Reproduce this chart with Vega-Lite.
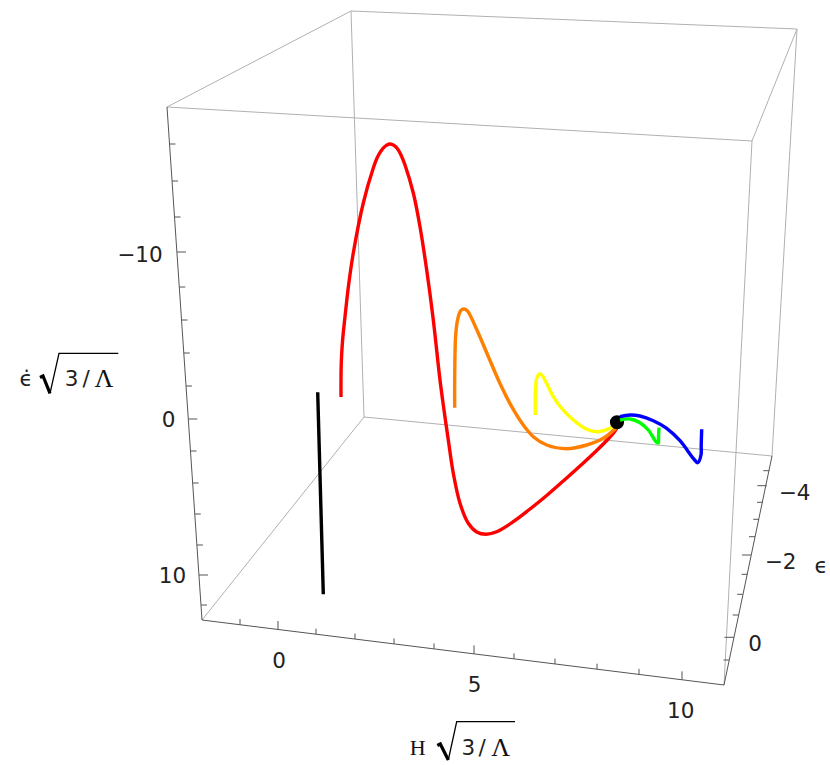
{"$schema":"https://vega.github.io/schema/vega-lite/v6.json","width":830,"height":765,"padding":0,"autosize":"none","background":"white","view":{"stroke":null},
"datasets":{
"box":[{"x":167,"y":107,"x2":351,"y2":11},{"x":351,"y":11,"x2":797,"y2":29},{"x":167,"y":107,"x2":752,"y2":141},{"x":752,"y":141,"x2":797,"y2":29},{"x":351,"y":11,"x2":364,"y2":417},{"x":364,"y":417,"x2":202,"y2":620},{"x":364,"y":417,"x2":772,"y2":456},{"x":797,"y":29,"x2":772,"y2":456},{"x":752,"y":141,"x2":724,"y2":685}],
"axes":[{"x":167,"y":107,"x2":202,"y2":620},{"x":202,"y":620,"x2":724,"y2":685},{"x":724,"y":685,"x2":772,"y2":456},
{"x":169.5,"y":144,"x2":175.5,"y2":144},{"x":172,"y":181,"x2":178,"y2":181},{"x":174.5,"y":217,"x2":180.5,"y2":217},{"x":177,"y":252,"x2":186,"y2":252},{"x":179.3,"y":287,"x2":185.3,"y2":287},{"x":181.5,"y":320,"x2":187.5,"y2":320},{"x":183.8,"y":353,"x2":189.8,"y2":353},{"x":186,"y":386,"x2":192,"y2":386},{"x":188.3,"y":419,"x2":197.3,"y2":419},{"x":190.5,"y":451,"x2":196.5,"y2":451},{"x":192.6,"y":483,"x2":198.6,"y2":483},{"x":194.8,"y":514,"x2":200.8,"y2":514},{"x":196.9,"y":545,"x2":202.9,"y2":545},{"x":199,"y":575,"x2":208,"y2":575},{"x":201,"y":605,"x2":207,"y2":605},
{"x":240,"y":624.7,"x2":240,"y2":619},{"x":278,"y":629.5,"x2":278,"y2":621},{"x":316,"y":634.2,"x2":316,"y2":628.7},{"x":355,"y":639,"x2":355,"y2":633.5},{"x":394,"y":643.9,"x2":394,"y2":638.4},{"x":434,"y":648.9,"x2":434,"y2":643.4},{"x":474,"y":653.9,"x2":474,"y2":645.4},{"x":514,"y":658.8,"x2":514,"y2":653.3},{"x":555,"y":664,"x2":555,"y2":658.5},{"x":597,"y":669.2,"x2":597,"y2":663.7},{"x":639,"y":674.4,"x2":639,"y2":668.9},{"x":682,"y":679.8,"x2":682,"y2":671.3},
{"x":729,"y":660,"x2":723.5,"y2":660},{"x":734,"y":637.3,"x2":724.5,"y2":637.3},{"x":738.3,"y":615,"x2":732.7,"y2":615},{"x":742.7,"y":594.3,"x2":737.2,"y2":594.3},{"x":747.3,"y":574.3,"x2":741.7,"y2":574.3},{"x":751,"y":555,"x2":742,"y2":555},{"x":755,"y":536.7,"x2":749,"y2":536.7},{"x":759,"y":519.3,"x2":753.3,"y2":519.3},{"x":762.7,"y":502.3,"x2":757,"y2":502.3},{"x":766.7,"y":485.7,"x2":757.3,"y2":485.7},{"x":769.3,"y":470.7,"x2":763.3,"y2":470.7}],
"labels":[{"x":140,"y":255.5,"t":"−10"},{"x":168.5,"y":420.5,"t":"0"},{"x":172.5,"y":576.5,"t":"10"},{"x":279,"y":661.5,"t":"0"},{"x":474.7,"y":685.5,"t":"5"},{"x":680.7,"y":711.5,"t":"10"},{"x":794.7,"y":493.5,"t":"−4"},{"x":780.5,"y":562.5,"t":"−2"},{"x":755,"y":644.5,"t":"0"},{"x":821,"y":567,"t":"ϵ"},{"x":26,"y":380,"t":"ϵ̇"},{"x":71.7,"y":380,"t":"3"},{"x":86,"y":380,"t":"/"},{"x":468.3,"y":748.5,"t":"3"},{"x":482,"y":748.5,"t":"/"}],
"lambda":[{"x":104,"y":379,"t":"Λ"},{"x":500.7,"y":748,"t":"Λ"}],
"serif":[{"x":417.7,"y":747.5,"t":"H"}],
"radThin":[{"g":"a","i":0,"x":50,"y":393.3},{"g":"a","i":1,"x":59,"y":353.3},{"g":"a","i":2,"x":118.3,"y":353.3},{"g":"b","i":0,"x":448.3,"y":760},{"g":"b","i":1,"x":456.7,"y":721.7},{"g":"b","i":2,"x":515,"y":721.7}],
"radThick":[{"g":"a","i":0,"x":40,"y":377.5},{"g":"a","i":1,"x":43,"y":376},{"g":"a","i":2,"x":50,"y":393.3},{"g":"b","i":0,"x":437.3,"y":745.5},{"g":"b","i":1,"x":440.3,"y":744},{"g":"b","i":2,"x":448.3,"y":760}],
"black":[{"i":0,"x":317.7,"y":392.3},{"i":1,"x":323.3,"y":594.3}],
"red":[{"i":0,"x":341,"y":397},{"i":1,"x":341,"y":380},{"i":2,"x":341.3,"y":362},{"i":3,"x":342.6,"y":340},{"i":4,"x":345,"y":316.7},{"i":5,"x":348.6,"y":285},{"i":6,"x":353.3,"y":253},{"i":7,"x":363.3,"y":203},{"i":8,"x":373.3,"y":168},{"i":9,"x":377.5,"y":157},{"i":10,"x":381.7,"y":150},{"i":11,"x":385.5,"y":146},{"i":12,"x":389.3,"y":144},{"i":13,"x":393.3,"y":145},{"i":14,"x":397.3,"y":148.5},{"i":15,"x":401,"y":155},{"i":16,"x":405,"y":165},{"i":17,"x":413.3,"y":193},{"i":18,"x":420,"y":226.7},{"i":19,"x":426.7,"y":270},{"i":20,"x":433.3,"y":320},{"i":21,"x":440,"y":380},{"i":22,"x":444,"y":410},{"i":23,"x":448.3,"y":440},{"i":24,"x":453.3,"y":473.3},{"i":25,"x":460,"y":503.3},{"i":26,"x":468.3,"y":523.3},{"i":27,"x":476.7,"y":532},{"i":28,"x":486,"y":534.3},{"i":29,"x":496.7,"y":531.7},{"i":30,"x":513.3,"y":521.7},{"i":31,"x":530,"y":509},{"i":32,"x":546.7,"y":495.5},{"i":33,"x":563.3,"y":481},{"i":34,"x":580,"y":466},{"i":35,"x":596.7,"y":450.5},{"i":36,"x":610,"y":437},{"i":37,"x":615,"y":431},{"i":38,"x":617.3,"y":426.7}],
"orange":[{"i":0,"x":454.7,"y":407.7},{"i":1,"x":454.7,"y":378.3},{"i":2,"x":455.5,"y":338},{"i":3,"x":456.7,"y":325},{"i":4,"x":458.3,"y":316.7},{"i":5,"x":460.7,"y":310.7},{"i":6,"x":464,"y":309},{"i":7,"x":467.3,"y":310.7},{"i":8,"x":470,"y":315},{"i":9,"x":480,"y":337},{"i":10,"x":490,"y":360.5},{"i":11,"x":500,"y":383.5},{"i":12,"x":511.7,"y":406.7},{"i":13,"x":523.3,"y":425},{"i":14,"x":533.3,"y":436.7},{"i":15,"x":546.7,"y":445},{"i":16,"x":566.7,"y":448.7},{"i":17,"x":586.7,"y":445},{"i":18,"x":603.3,"y":438.3},{"i":19,"x":617.3,"y":426.7}],
"yellow":[{"i":0,"x":535.3,"y":415},{"i":1,"x":535.3,"y":395},{"i":2,"x":535.7,"y":388},{"i":3,"x":536.7,"y":378.5},{"i":4,"x":539.3,"y":374},{"i":5,"x":541.7,"y":375},{"i":6,"x":544,"y":378.3},{"i":7,"x":553.3,"y":396.7},{"i":8,"x":559.3,"y":405.5},{"i":9,"x":570,"y":417},{"i":10,"x":586.7,"y":429.3},{"i":11,"x":598.3,"y":431.7},{"i":12,"x":610,"y":428.3},{"i":13,"x":617.3,"y":422.7}],
"dot":[{"x":617,"y":422.3}],
"green":[{"i":0,"x":659,"y":427.7},{"i":1,"x":658.5,"y":437},{"i":2,"x":658.3,"y":443},{"i":3,"x":656,"y":441.7},{"i":4,"x":648.3,"y":430},{"i":5,"x":640,"y":422.7},{"i":6,"x":630,"y":419},{"i":7,"x":620,"y":420}],
"blue":[{"i":0,"x":701.7,"y":429.3},{"i":1,"x":701.2,"y":445},{"i":2,"x":701,"y":455},{"i":3,"x":697.7,"y":462.7},{"i":4,"x":693.3,"y":458.3},{"i":5,"x":680,"y":440.7},{"i":6,"x":666.7,"y":428.3},{"i":7,"x":653.3,"y":420.7},{"i":8,"x":640,"y":416},{"i":9,"x":630,"y":415},{"i":10,"x":620,"y":416.7}]
},
"encoding":{"x":{"field":"x","type":"quantitative","axis":null,"scale":{"domain":[0,830],"range":[0,830],"nice":false,"zero":false}},"y":{"field":"y","type":"quantitative","axis":null,"scale":{"domain":[765,0],"range":[765,0],"nice":false,"zero":false}}},
"layer":[
{"data":{"name":"box"},"mark":{"type":"rule","color":"#b0b0b0","strokeWidth":1},"encoding":{"x2":{"field":"x2"},"y2":{"field":"y2"}}},
{"data":{"name":"axes"},"mark":{"type":"rule","color":"#555555","strokeWidth":1},"encoding":{"x2":{"field":"x2"},"y2":{"field":"y2"}}},
{"data":{"name":"black"},"mark":{"type":"line","color":"black","strokeWidth":3.4,"strokeCap":"butt"},"encoding":{"order":{"field":"i"}}},
{"data":{"name":"red"},"mark":{"type":"line","color":"#ff0000","strokeWidth":3.4,"interpolate":"catmull-rom"},"encoding":{"order":{"field":"i"}}},
{"data":{"name":"orange"},"mark":{"type":"line","color":"#ff7f00","strokeWidth":3.4,"interpolate":"catmull-rom"},"encoding":{"order":{"field":"i"}}},
{"data":{"name":"yellow"},"mark":{"type":"line","color":"#ffff00","strokeWidth":3.4,"interpolate":"catmull-rom"},"encoding":{"order":{"field":"i"}}},
{"data":{"name":"dot"},"mark":{"type":"point","filled":true,"color":"black","opacity":1,"size":200}},
{"data":{"name":"green"},"mark":{"type":"line","color":"#00ff00","strokeWidth":3.4,"interpolate":"catmull-rom"},"encoding":{"order":{"field":"i"}}},
{"data":{"name":"blue"},"mark":{"type":"line","color":"#0000ff","strokeWidth":3.4,"interpolate":"catmull-rom"},"encoding":{"order":{"field":"i"}}},
{"data":{"name":"radThin"},"mark":{"type":"line","color":"black","strokeWidth":1.3},"encoding":{"detail":{"field":"g"},"order":{"field":"i"}}},
{"data":{"name":"radThick"},"mark":{"type":"line","color":"black","strokeWidth":3.2},"encoding":{"detail":{"field":"g"},"order":{"field":"i"}}},
{"data":{"name":"labels"},"mark":{"type":"text","font":"DejaVu Sans","fontSize":21.5,"color":"#222222","align":"center","baseline":"middle"},"encoding":{"text":{"field":"t"}}},
{"data":{"name":"lambda"},"mark":{"type":"text","font":"Liberation Serif","fontSize":26,"color":"#111111","align":"center","baseline":"middle"},"encoding":{"text":{"field":"t"}}},
{"data":{"name":"serif"},"mark":{"type":"text","font":"Liberation Serif","fontSize":22,"color":"#111111","align":"center","baseline":"middle"},"encoding":{"text":{"field":"t"}}}
]}
